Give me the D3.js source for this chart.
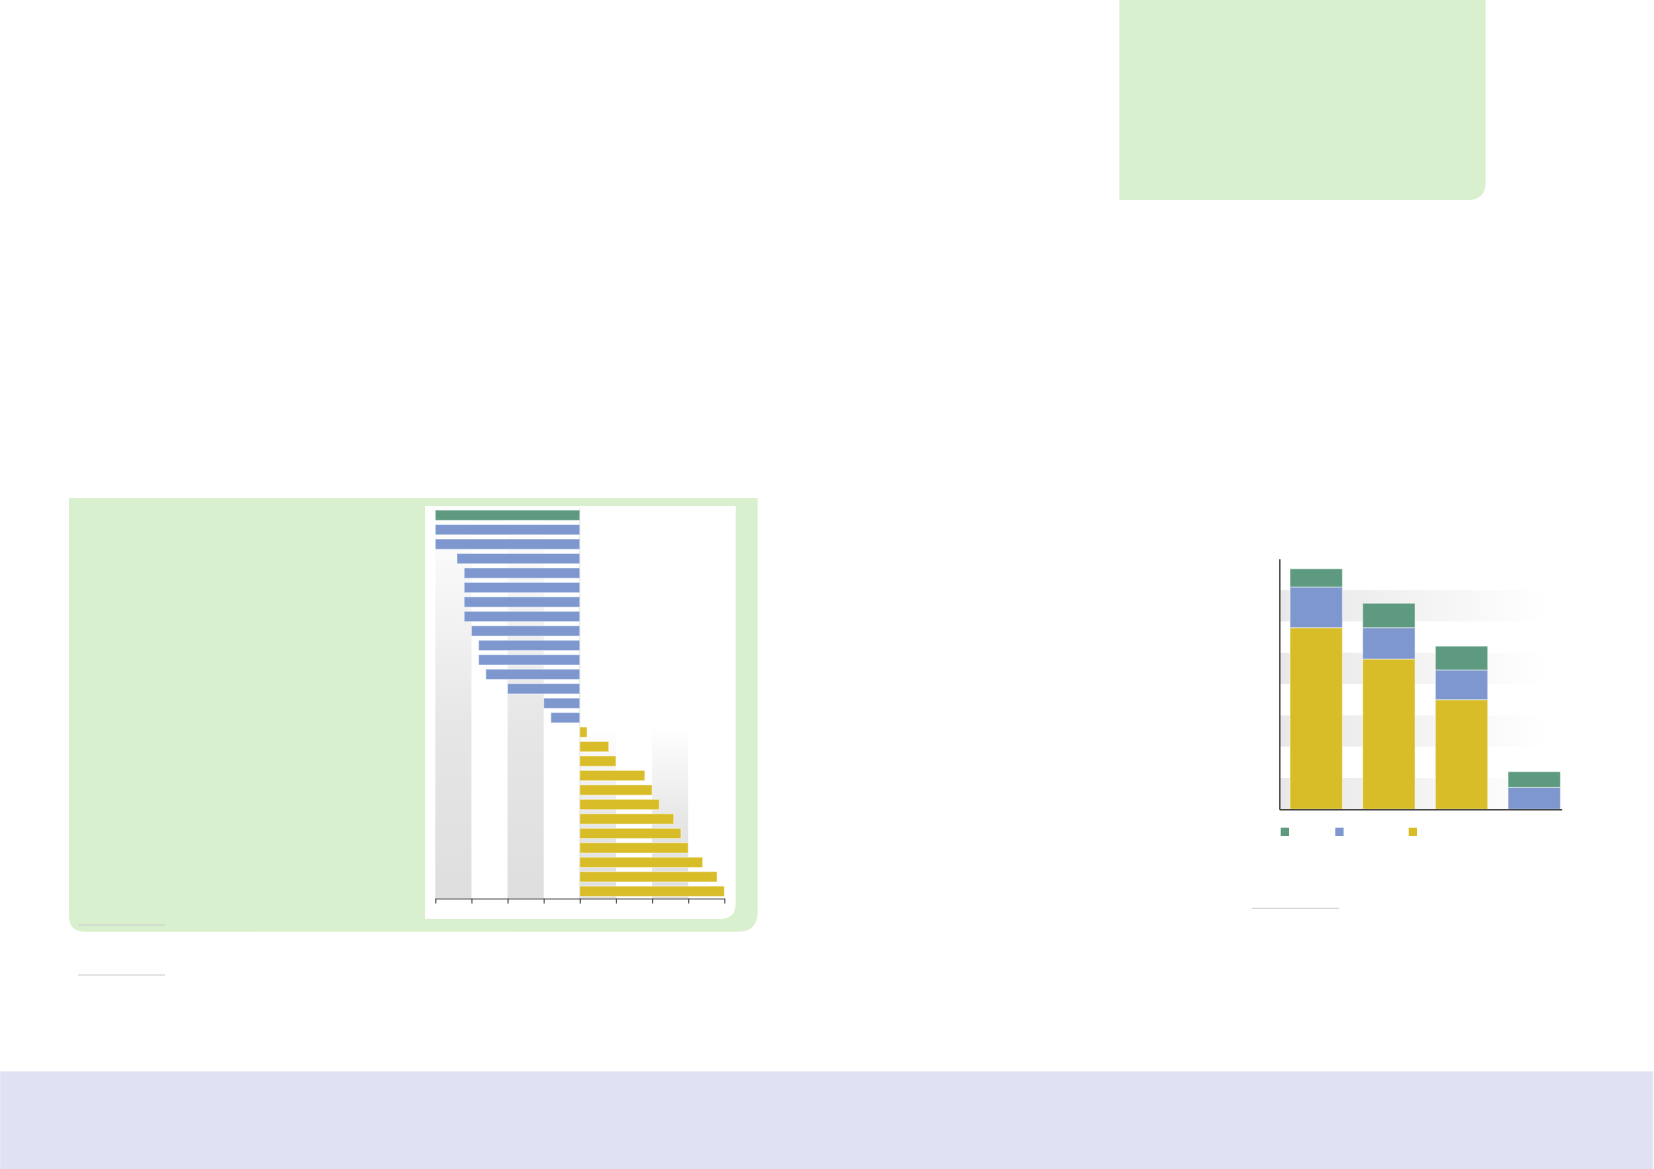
<!DOCTYPE html>
<html>
<head>
<meta charset="utf-8">
<script src="https://cdn.jsdelivr.net/npm/d3@7"></script>
<style>
  body { margin: 0; background: #fff; }
  svg { display: block; }
</style>
</head>
<body>
<div id="container"></div>
<script>
const widthSVG = 1654,
    heightSVG = 1169;

// diverging bar chart (left panel)
const totalRow = [-4.0];
const negativeRows = [-4.0, -4.0, -3.4, -3.2, -3.2, -3.2, -3.2, -3.0, -2.8, -2.8, -2.6, -2.0, -1.0, -0.8];
const positiveRows = [0.2, 0.8, 1.0, 1.8, 2.0, 2.2, 2.6, 2.8, 3.0, 3.4, 3.8, 4.0];
const divTicks = [-4, -3, -2, -1, 0, 1, 2, 3, 4];
const divShadedCols = [[-4, -3], [-2, -1]];
const divShadedColsLow = [[0, 1], [2, 3]];

// stacked bar chart (right)
const stackCategories = ["c1", "c2", "c3", "c4"];
const seriesBottom = [5.8, 4.8, 3.5, 0];
const seriesMiddle = [1.3, 1.0, 0.95, 0.7];
const seriesTop = [0.58, 0.78, 0.76, 0.5];
const stackTicks = [0, 1, 2, 3, 4, 5, 6, 7, 8];
const stackShadedRows = [[0, 1], [2, 3], [4, 5], [6, 7]];

const colors = { total: "#5d9a80", neg: "#7e98cf", pos: "#d8bd28" };

const svg = d3.select('#container')
    .append('svg')
    .attr('width', widthSVG)
    .attr('height', heightSVG)

const defs = svg.append('defs')

const vGrad = defs.append('linearGradient')
    .attr('id', 'vfade').attr('x1', 0).attr('x2', 0).attr('y1', 0).attr('y2', 1)
vGrad.append('stop').attr('offset', '0%').attr('stop-color', '#dedede').attr('stop-opacity', 0)
vGrad.append('stop').attr('offset', '55%').attr('stop-color', '#dedede').attr('stop-opacity', 0.75)
vGrad.append('stop').attr('offset', '100%').attr('stop-color', '#dedede').attr('stop-opacity', 1)

const hGrad = defs.append('linearGradient')
    .attr('id', 'hfade').attr('x1', 0).attr('x2', 1).attr('y1', 0).attr('y2', 0)
hGrad.append('stop').attr('offset', '0%').attr('stop-color', '#e8e8e8').attr('stop-opacity', 1)
hGrad.append('stop').attr('offset', '45%').attr('stop-color', '#e8e8e8').attr('stop-opacity', 0.6)
hGrad.append('stop').attr('offset', '100%').attr('stop-color', '#e8e8e8').attr('stop-opacity', 0)

// rounded-bottom box helper (square top corners)
function boxPath(x0, y0, x1, y1, rl, rr) {
    return `M${x0},${y0} H${x1} V${y1 - rr} Q${x1},${y1} ${x1 - rr},${y1} H${x0 + rl} Q${x0},${y1} ${x0},${y1 - rl} Z`;
}

// backgrounds
svg.append('path').attr('d', boxPath(1119.3, -2, 1485.7, 200, 0, 18)).attr('fill', '#d9f0ce')
svg.append('path').attr('d', boxPath(69, 498, 757.7, 931.7, 16, 20)).attr('fill', '#d9f0ce')
svg.append('path').attr('d', boxPath(425, 506, 735.7, 919, 0, 16)).attr('fill', '#fff')

svg.append('rect')
    .attr('x', 0).attr('y', 1071.5).attr('width', 1653).attr('height', 100)
    .attr('fill', '#dfe2f3').attr('stroke', '#eceef6').attr('stroke-width', 1)

// little rules under the panels
const rules = [[78, 165, 925], [78, 165, 975], [1252, 1339, 908.3]];
svg.selectAll('line.rule')
    .data(rules).enter().append('line')
    .attr('class', 'rule')
    .attr('x1', d => d[0]).attr('x2', d => d[1])
    .attr('y1', d => d[2]).attr('y2', d => d[2])
    .attr('stroke', '#cccccc').attr('stroke-width', 1)

// ---------- diverging chart ----------
const rows = [
    ...totalRow.map(v => ({ v, kind: 'total' })),
    ...negativeRows.map(v => ({ v, kind: 'neg' })),
    ...positiveRows.map(v => ({ v, kind: 'pos' }))
];
rows.forEach((d, i) => d.id = 'r' + i);

const xDiv = d3.scaleLinear().domain([-4, 4]).range([435.3, 724.3]);
const yDiv = d3.scaleBand()
    .domain(rows.map(d => d.id))
    .range([508, 898.5])
    .paddingInner(0.29)
    .paddingOuter(0.145)

const divChart = svg.append('g').attr('id', 'diverging')

// shaded columns: full height on the left, from the first positive row down on the right
divChart.selectAll('rect.shadeL')
    .data(divShadedCols).enter().append('rect')
    .attr('x', d => xDiv(d[0]))
    .attr('width', d => xDiv(d[1]) - xDiv(d[0]))
    .attr('y', yDiv.range()[0])
    .attr('height', yDiv.range()[1] - yDiv.range()[0])
    .attr('fill', 'url(#vfade)')

const firstPos = yDiv(rows.find(d => d.kind === 'pos').id);
divChart.selectAll('rect.shadeR')
    .data(divShadedColsLow).enter().append('rect')
    .attr('x', d => xDiv(d[0]))
    .attr('width', d => xDiv(d[1]) - xDiv(d[0]))
    .attr('y', firstPos)
    .attr('height', yDiv.range()[1] - firstPos)
    .attr('fill', 'url(#vfade)')

// zero line
divChart.append('line')
    .attr('x1', xDiv(0)).attr('x2', xDiv(0))
    .attr('y1', yDiv.range()[0]).attr('y2', yDiv.range()[1])
    .attr('stroke', '#e4e4e4').attr('stroke-width', 1)

divChart.selectAll('rect.bar')
    .data(rows).enter().append('rect')
    .attr('class', 'bar')
    .attr('x', d => xDiv(Math.min(0, d.v)))
    .attr('width', d => Math.abs(xDiv(d.v) - xDiv(0)))
    .attr('y', d => yDiv(d.id))
    .attr('height', yDiv.bandwidth())
    .attr('fill', d => colors[d.kind])
    .attr('stroke', 'rgba(255,255,255,0.45)')
    .attr('stroke-width', 1)

const divAxis = divChart.append('g')
    .attr('transform', `translate(0,${yDiv.range()[1]})`)
    .call(d3.axisBottom(xDiv).tickValues(divTicks).tickFormat('').tickSize(5).tickSizeOuter(0))
divAxis.selectAll('path, line').attr('stroke', '#555').attr('stroke-width', 1.2)

// ---------- stacked chart ----------
const stackRows = stackCategories.map((c, i) => ({
    cat: c, bottom: seriesBottom[i], middle: seriesMiddle[i], top: seriesTop[i]
}));
const keys = ['bottom', 'middle', 'top'];
const keyColor = { bottom: colors.pos, middle: colors.neg, top: colors.total };
const stacked = d3.stack().keys(keys)(stackRows);

const xStack = d3.scaleBand()
    .domain(stackCategories)
    .range([1279.3, 1561.7])
    .paddingInner(0.28)
    .paddingOuter(0.083)
    .align(0.89)
const yStack = d3.scaleLinear().domain([0, 8]).range([809.3, 558.8]);

const stackChart = svg.append('g').attr('id', 'stacked')

stackChart.selectAll('rect.band')
    .data(stackShadedRows).enter().append('rect')
    .attr('x', xStack.range()[0])
    .attr('width', 266)
    .attr('y', d => yStack(d[1]))
    .attr('height', d => yStack(d[0]) - yStack(d[1]))
    .attr('fill', 'url(#hfade)')

stackChart.selectAll('g.layer')
    .data(stacked).enter().append('g')
    .attr('fill', d => keyColor[d.key])
    .selectAll('rect')
    .data(d => d).enter().append('rect')
    .attr('x', d => xStack(d.data.cat))
    .attr('width', xStack.bandwidth())
    .attr('y', d => yStack(d[1]))
    .attr('height', d => yStack(d[0]) - yStack(d[1]))
    .attr('stroke', 'rgba(255,255,255,0.45)')
    .attr('stroke-width', d => d[1] > d[0] ? 1 : 0)

const yAx = stackChart.append('g')
    .attr('transform', `translate(${xStack.range()[0]},0)`)
    .call(d3.axisLeft(yStack).tickValues([]).tickSizeOuter(0))
const xAx = stackChart.append('g')
    .attr('transform', `translate(0,${yStack(0)})`)
    .call(d3.axisBottom(xStack).tickValues([]).tickSizeOuter(0))
stackChart.selectAll('.domain').attr('stroke', '#444').attr('stroke-width', 1.5)

// legend swatches
const legendX = [1280.7, 1335.3, 1408.7];
const legendKeys = ['top', 'middle', 'bottom'];
stackChart.selectAll('rect.legend')
    .data(legendKeys).enter().append('rect')
    .attr('x', (d, i) => legendX[i])
    .attr('y', 827.7)
    .attr('width', 8.3).attr('height', 8.3)
    .attr('fill', d => keyColor[d])
</script>
</body>
</html>
